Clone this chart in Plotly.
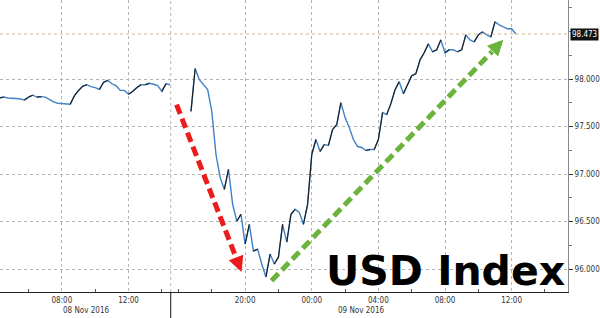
import pandas as pd
import plotly.graph_objects as go

# ---------------- data (15-minute samples) ----------------
left_start = "2016-11-08 04:15"
left_vals = [97.80, 97.81, 97.80, 97.80, 97.795, 97.79, 97.78, 97.81, 97.83, 97.81,
             97.815, 97.81, 97.785, 97.76, 97.745, 97.74, 97.74, 97.735, 97.825, 97.88,
             97.925, 97.94, 97.92, 97.91, 97.89, 97.965, 97.985, 97.95, 97.93, 97.88,
             97.88, 97.84, 97.87, 97.91, 97.94, 97.94, 97.955, 97.945, 97.93, 97.87,
             97.95, 97.94]

right_start = "2016-11-08 16:45"
right_vals = [97.660, 98.110, 97.993, 97.940, 97.888, 97.657, 97.206, 96.965, 96.839, 97.049,
              96.682, 96.504, 96.577, 96.263, 96.472, 96.190, 96.211, 96.054, 95.918, 96.159,
              96.054, 96.127, 96.472, 96.284, 96.577, 96.630, 96.598, 96.472, 96.682, 97.206,
              97.364, 97.238, 97.311, 97.301, 97.469, 97.521, 97.752, 97.594, 97.490, 97.364,
              97.290, 97.280, 97.248, 97.259, 97.259, 97.364, 97.647, 97.626, 97.741, 97.888,
              97.972, 97.846, 97.940, 98.035, 98.056, 98.202, 98.276, 98.370, 98.286, 98.307,
              98.412, 98.276, 98.307, 98.307, 98.286, 98.307, 98.464, 98.412, 98.391, 98.464,
              98.496, 98.464, 98.443, 98.600, 98.569, 98.548, 98.528, 98.528, 98.473]

last_value = 98.473
session_break = ["2016-11-08 14:32", "2016-11-08 15:32"]

x_tickvals = ["2016-11-08 08:00", "2016-11-08 12:00", "2016-11-08 20:00",
              "2016-11-09 00:00", "2016-11-09 04:00", "2016-11-09 08:00", "2016-11-09 12:00"]
x_ticktext = ["08:00", "12:00", "20:00", "00:00", "04:00", "08:00", "12:00"]
x_minor = ["2016-11-08 06:00", "2016-11-08 10:00", "2016-11-08 14:00", "2016-11-08 16:00",
           "2016-11-08 18:00", "2016-11-08 22:00", "2016-11-09 02:00", "2016-11-09 06:00",
           "2016-11-09 10:00", "2016-11-09 14:00"]
date_labels = ["08 Nov 2016", "09 Nov 2016"]
date_label_pos = ["2016-11-08 09:27", "2016-11-09 03:00"]
y_tickvals = [96.0, 96.5, 97.0, 97.5, 98.0]

# arrows (data coordinates): tail, head-base, tip
red_arrow = dict(t0="2016-11-08 15:53", v0=97.731, t1="2016-11-08 19:28", v1=96.116,
                 tip="2016-11-08 19:47", vtip=95.97)
green_arrow = dict(t0="2016-11-08 21:35", v0=95.878, t1="2016-11-09 10:50", v1=98.29,
                   tip="2016-11-09 11:30", vtip=98.412)
title_text = "USD Index"

# ---------------- build series ----------------
lt = list(pd.date_range(left_start, periods=len(left_vals), freq="15min"))
rt = list(pd.date_range(right_start, periods=len(right_vals), freq="15min"))
xs = lt + [None] + rt
ys = left_vals + [None] + right_vals

# rising segments drawn dark on top of the blue line
up_x, up_y = [], []
for seg_t, seg_v in ((lt, left_vals), (rt, right_vals)):
    for i in range(len(seg_v) - 1):
        if seg_v[i + 1] > seg_v[i]:
            up_x += [seg_t[i], seg_t[i + 1], None]
            up_y += [seg_v[i], seg_v[i + 1], None]

fig = go.Figure()
fig.add_trace(go.Scatter(x=xs, y=ys, mode="lines", line=dict(color="#3f80c8", width=1.4),
                         connectgaps=False, hoverinfo="skip"))
fig.add_trace(go.Scatter(x=up_x, y=up_y, mode="lines", line=dict(color="#1b1b1b", width=1.1),
                         connectgaps=False, hoverinfo="skip"))

tick_font = dict(family="DejaVu Sans Condensed, DejaVu Sans", size=8, color="#333333")

fig.update_layout(
    width=600, height=318, margin=dict(l=0, r=32, t=0, b=26),
    paper_bgcolor="white", plot_bgcolor="white", showlegend=False,
    xaxis=dict(
        type="date", range=["2016-11-08 04:17", "2016-11-09 15:23"],
        rangebreaks=[dict(bounds=session_break)],
        tickmode="array", tickvals=x_tickvals, ticktext=x_ticktext,
        tickfont=tick_font, ticks="", showgrid=True, gridcolor="#b5b5b5", griddash="dot",
        gridwidth=1, showline=True, linecolor="#222222", linewidth=1, zeroline=False,
        minor=dict(tickvals=x_minor, ticks="inside", ticklen=3, tickcolor="#555555",
                   showgrid=False),
    ),
    yaxis=dict(
        side="right", range=[95.76, 98.831], tickmode="array", tickvals=y_tickvals,
        tickformat=".3f", tickfont=tick_font, ticks="outside", ticklen=4,
        tickcolor="#333333", showgrid=True, gridcolor="#b5b5b5", griddash="dot",
        showline=True, linecolor="#8a8a8a", linewidth=1, zeroline=False,
        minor=dict(dtick=0.25, tick0=96.0, ticks="outside", ticklen=3,
                   tickcolor="#777777", showgrid=False),
    ),
)

# session separator
fig.add_shape(type="line", xref="x", yref="paper", x0=session_break[0], x1=session_break[0],
              y0=0, y1=1, line=dict(color="#b5b5b5", width=1, dash="dot"))
fig.add_shape(type="line", xref="x", yref="paper", x0=session_break[0], x1=session_break[0],
              y0=-0.09, y1=0, line=dict(color="#111111", width=1))
# last-price line
fig.add_shape(type="line", xref="paper", yref="y", x0=0, x1=1, y0=last_value, y1=last_value,
              line=dict(color="#d8b48a", width=1, dash="dot"))

# dashed arrows
for arr, col in ((red_arrow, "#ec1c1c"), (green_arrow, "#6cb33c")):
    fig.add_shape(type="line", xref="x", yref="y", x0=arr["t0"], y0=arr["v0"],
                  x1=arr["t1"], y1=arr["v1"], line=dict(color=col, width=5, dash="10px,5px"))
    fig.add_annotation(x=arr["tip"], y=arr["vtip"], xref="x", yref="y",
                       ax=arr["t1"], ay=arr["v1"], axref="x", ayref="y",
                       text="", showarrow=True, arrowhead=2, arrowsize=0.62,
                       arrowwidth=5, arrowcolor=col, standoff=0)

# last value tag
fig.add_annotation(x=1, y=last_value, xref="paper", yref="y", xanchor="left", yanchor="middle",
                   xshift=2, text=f"{last_value:.3f}", showarrow=False,
                   font=dict(family="DejaVu Sans Condensed, DejaVu Sans", size=8, color="white"),
                   bgcolor="#111111", borderpad=1)

# date labels
for lbl, pos in zip(date_labels, date_label_pos):
    fig.add_annotation(x=pos, y=-0.062, xref="x", yref="paper", yanchor="middle",
                       text=lbl, showarrow=False, font=tick_font)

# big title
fig.add_annotation(x=0.784, y=0.072, xref="paper", yref="paper", xanchor="center",
                   yanchor="middle", text=f"<b>{title_text}</b>", showarrow=False,
                   font=dict(family="DejaVu Sans", size=41, color="black"))

fig.write_html("out.html")
